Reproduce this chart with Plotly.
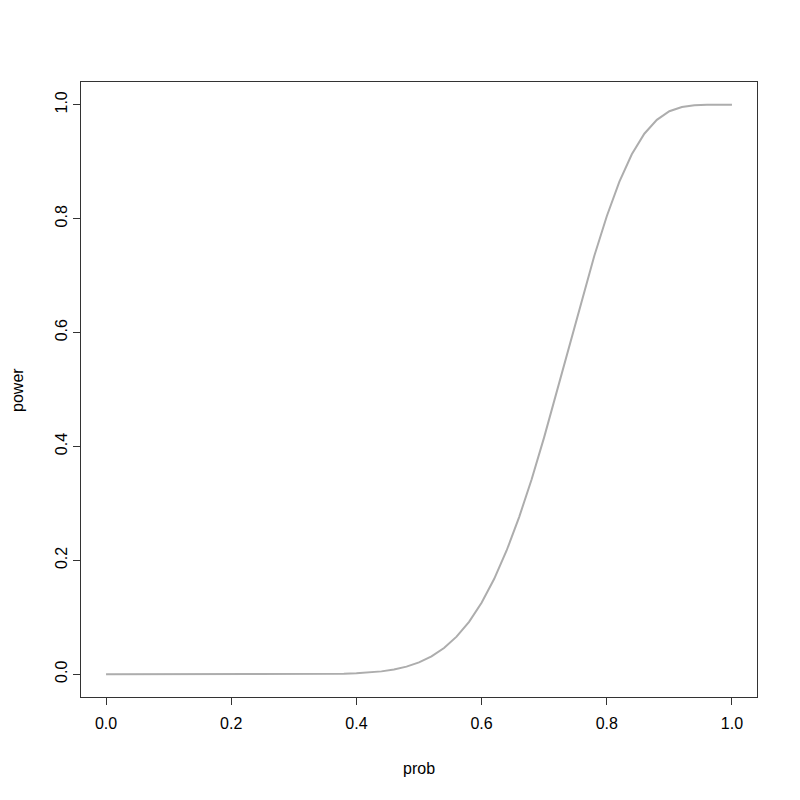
import plotly.graph_objects as go

prob = [round(i * 0.02, 2) for i in range(51)]
power = [0.0, 0.0, 0.0, 0.0, 0.0, 0.0, 0.0, 0.0, 0.0, 0.0,
         0.0, 0.0, 0.0, 0.0, 0.0, 0.0, 0.0001, 0.0002, 0.0004, 0.0009,
         0.0016, 0.0029, 0.0050, 0.0083, 0.0133, 0.0207, 0.0313, 0.0461, 0.0660, 0.0921,
         0.1256, 0.1671, 0.2173, 0.2759, 0.3423, 0.4164, 0.4952, 0.5764, 0.6573, 0.7346,
         0.8042, 0.8645, 0.9130, 0.9492, 0.9735, 0.9887, 0.9962, 0.9991, 0.9999, 1.0, 1.0]
tick_vals = [0.0, 0.2, 0.4, 0.6, 0.8, 1.0]
tick_text = ["0.0", "0.2", "0.4", "0.6", "0.8", "1.0"]

font = dict(family="Liberation Sans, Arial, sans-serif", size=16, color="black")

fig = go.Figure()
fig.add_trace(go.Scatter(x=prob, y=power, mode="lines",
                         line=dict(color="#ADADAD", width=2)))

axis_common = dict(range=[-0.04, 1.04], showgrid=False, zeroline=False,
                   showline=True, mirror=True, linecolor="#333333", linewidth=1,
                   ticks="outside", ticklen=7, tickcolor="#333333", tickwidth=1,
                   tickvals=tick_vals, ticktext=tick_text, tickfont=font)

fig.update_layout(
    width=800, height=800,
    margin=dict(l=73, r=51, t=74, b=111),
    plot_bgcolor="white", paper_bgcolor="white",
    showlegend=False,
    xaxis=dict(**axis_common, ticklabelstandoff=5),
    yaxis=dict(**axis_common, tickangle=-90),
    annotations=[
        dict(text="prob", xref="paper", yref="paper", x=0.5, y=-0.117,
             showarrow=False, xanchor="center", yanchor="middle", font=font),
        dict(text="power", xref="paper", yref="paper", x=-0.094, y=0.5, textangle=-90,
             showarrow=False, xanchor="center", yanchor="middle", font=font,
             borderpad=0),
    ],
)

fig.write_html("out.html")
